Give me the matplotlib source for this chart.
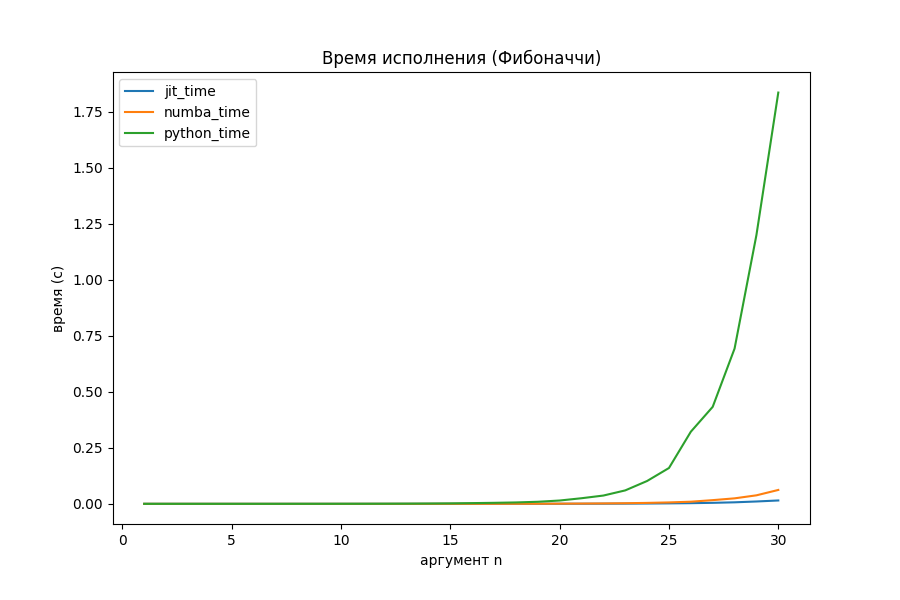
import matplotlib
matplotlib.use("Agg")
import matplotlib.pyplot as plt

n = list(range(1, 31))

jit_time = [0.0, 0.0, 0.0, 0.0, 0.0, 0.0, 0.0, 0.0, 0.0, 0.0,
            0.0, 0.0, 0.0, 0.0, 0.0, 0.0, 0.0001, 0.0001, 0.0002, 0.0003,
            0.0004, 0.0006, 0.0009, 0.0014, 0.0021, 0.003, 0.0045, 0.0068, 0.0105, 0.015]

numba_time = [0.0, 0.0, 0.0, 0.0, 0.0, 0.0, 0.0, 0.0, 0.0, 0.0,
              0.0, 0.0, 0.0, 0.0, 0.0001, 0.0001, 0.0002, 0.0003, 0.0005, 0.0008,
              0.0012, 0.0018, 0.0027, 0.0042, 0.0063, 0.0095, 0.0165, 0.0245, 0.038, 0.062]

python_time = [0.0, 0.0, 0.0, 0.0, 0.0, 0.0, 0.0, 0.0001, 0.0001, 0.0002,
               0.0003, 0.0005, 0.0008, 0.0013, 0.002, 0.0032, 0.0045, 0.0062, 0.0092, 0.0148,
               0.025, 0.037, 0.06, 0.102, 0.16, 0.322, 0.433, 0.693, 1.2, 1.836]

plt.figure(figsize=(9, 6), dpi=100)
plt.subplots_adjust(bottom=0.126)

plt.plot(n, jit_time, label="jit_time")
plt.plot(n, numba_time, label="numba_time")
plt.plot(n, python_time, label="python_time")

plt.title("Время исполнения (Фибоначчи)")
plt.xlabel("аргумент n")
plt.ylabel("время (с)")
plt.legend()

plt.savefig("out.png")
